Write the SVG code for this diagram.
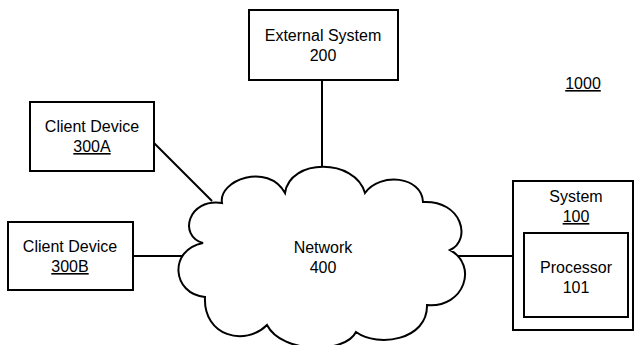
<svg xmlns="http://www.w3.org/2000/svg" width="636" height="345" viewBox="0 0 636 345">
  <style>
    .box { fill: #fff; stroke: #000; stroke-width: 2; }
    .wire { fill: none; stroke: #000; stroke-width: 2; }
    text { font-family: "Liberation Sans", Arial, sans-serif; font-size: 16px; fill: #000; text-anchor: middle; }
    .ul { text-decoration: underline; }
  </style>
  <rect width="636" height="345" fill="#fff"/>

  <g id="connectors">
    <line class="wire" x1="322" y1="80" x2="322" y2="168"/>
    <line class="wire" x1="154" y1="143" x2="212" y2="201"/>
    <line class="wire" x1="133" y1="256" x2="186" y2="256"/>
    <line class="wire" x1="456" y1="256" x2="513" y2="256"/>
  </g>

  <g id="network-400">
    <path class="box" d="M 222,203 C 218,180 268,162 285,193 C 290,158 355,158 365,193 C 380,172 422,176 423,202 C 462,200 472,240 450,250 C 478,265 465,308 427,305 C 428,340 378,348 356,332 C 345,354 282,354 267,325 C 245,347 203,336 205,297 C 172,294 168,250 203,243 C 178,236 188,198 222,203 Z"/>
    <text x="323" y="253">Network</text>
    <text x="323" y="273">400</text>
  </g>

  <g id="external-system-200">
    <rect class="box" x="249" y="10" width="149" height="70"/>
    <text x="323" y="41">External System</text>
    <text x="323" y="61">200</text>
  </g>

  <g id="client-device-300a">
    <rect class="box" x="30" y="102" width="124" height="69"/>
    <text x="92" y="132">Client Device</text>
    <text x="92" y="152" class="ul">300A</text>
  </g>

  <g id="client-device-300b">
    <rect class="box" x="8" y="222" width="125" height="68"/>
    <text x="70" y="252">Client Device</text>
    <text x="70" y="272" class="ul">300B</text>
  </g>

  <g id="system-100">
    <rect class="box" x="513" y="181" width="120" height="149"/>
    <text x="576" y="202">System</text>
    <text x="576" y="222" class="ul">100</text>
  </g>

  <g id="processor-101">
    <rect class="box" x="524" y="233" width="104" height="84"/>
    <text x="576" y="273">Processor</text>
    <text x="576" y="293">101</text>
  </g>

  <text x="583" y="89" class="ul">1000</text>
</svg>
